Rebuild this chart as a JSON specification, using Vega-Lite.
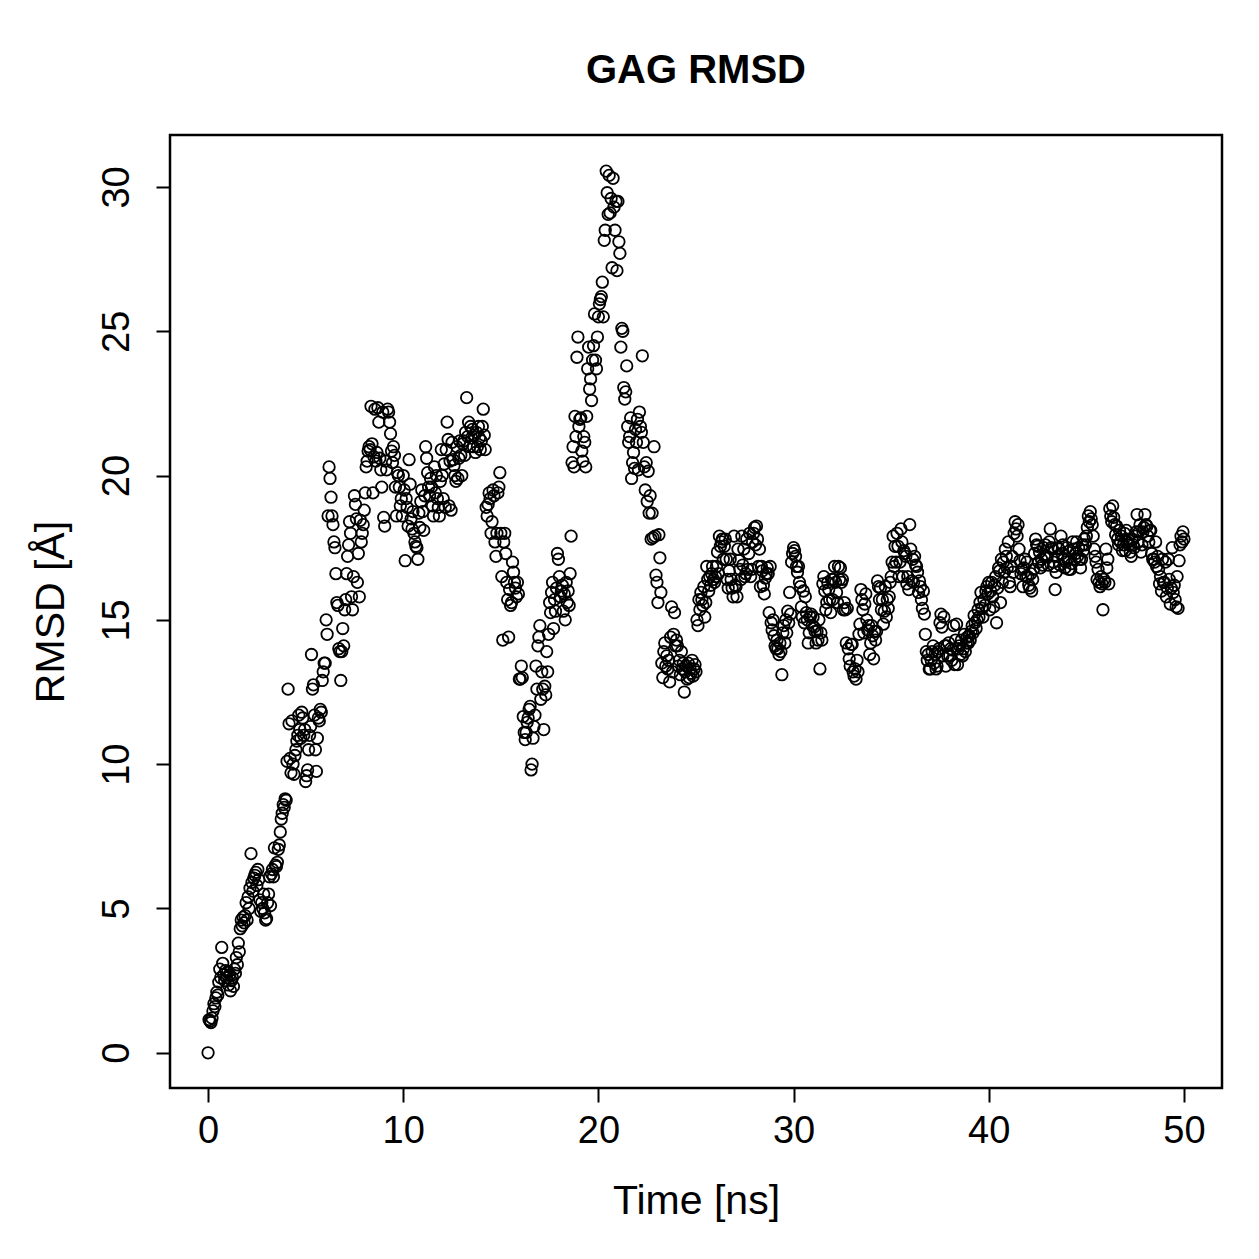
{
  "$schema": "https://vega.github.io/schema/vega-lite/v6.json",
  "width": 1052,
  "height": 953,
  "autosize": {"type": "none"},
  "padding": {"left": 170, "top": 135, "right": 37, "bottom": 171},
  "background": "white",
  "title": {
    "text": "GAG RMSD",
    "font": "Liberation Sans",
    "fontSize": 40,
    "fontWeight": "bold",
    "color": "black",
    "anchor": "middle",
    "frame": "group",
    "baseline": "alphabetic",
    "offset": 12
  },
  "config": {
    "view": {"stroke": "black", "strokeWidth": 2.5},
    "font": "Liberation Sans"
  },
  "data": {
    "values": [
      {"t":0,"r":0},{"t":0.05,"r":1.15},{"t":0.1,"r":1.1},{"t":0.15,"r":1.05},{"t":0.2,"r":1.2},{"t":0.25,"r":1.45},{"t":0.3,"r":1.7},{"t":0.35,"r":1.6},{"t":0.4,"r":1.9},{"t":0.45,"r":2.1},{"t":0.5,"r":2.0},{"t":0.55,"r":2.45},{"t":0.6,"r":2.9},{"t":0.65,"r":2.6},{"t":0.7,"r":3.65},{"t":0.75,"r":3.1},{"t":0.8,"r":2.7},{"t":0.85,"r":2.5},{"t":0.9,"r":2.85},{"t":0.95,"r":2.6},
      {"t":1,"r":2.8},{"t":1.05,"r":2.35},{"t":1.1,"r":2.7},{"t":1.15,"r":2.15},{"t":1.2,"r":2.5},{"t":1.25,"r":2.6},{"t":1.3,"r":2.3},{"t":1.35,"r":2.9},{"t":1.4,"r":2.75},{"t":1.45,"r":3.3},{"t":1.5,"r":3.05},{"t":1.55,"r":3.8},{"t":1.6,"r":3.5},{"t":1.65,"r":4.3},{"t":1.7,"r":4.6},{"t":1.75,"r":4.4},{"t":1.8,"r":4.7},{"t":1.85,"r":4.5},{"t":1.9,"r":4.75},{"t":1.95,"r":5.2},
      {"t":2,"r":4.6},{"t":2.05,"r":5.4},{"t":2.1,"r":5.0},{"t":2.15,"r":5.7},{"t":2.2,"r":6.9},{"t":2.25,"r":5.9},{"t":2.3,"r":5.6},{"t":2.35,"r":6.05},{"t":2.4,"r":6.15},{"t":2.45,"r":6.25},{"t":2.5,"r":5.8},{"t":2.55,"r":6.35},{"t":2.6,"r":6.0},{"t":2.65,"r":5.3},{"t":2.7,"r":4.9},{"t":2.75,"r":5.2},{"t":2.8,"r":5.0},{"t":2.85,"r":5.5},{"t":2.9,"r":4.85},{"t":2.95,"r":4.6},
      {"t":3,"r":4.65},{"t":3.05,"r":5.2},{"t":3.1,"r":5.5},{"t":3.15,"r":6.1},{"t":3.2,"r":5.1},{"t":3.25,"r":6.2},{"t":3.3,"r":6.35},{"t":3.35,"r":6.1},{"t":3.4,"r":7.1},{"t":3.45,"r":6.5},{"t":3.5,"r":6.45},{"t":3.55,"r":6.6},{"t":3.6,"r":7.05},{"t":3.65,"r":7.2},{"t":3.7,"r":7.65},{"t":3.75,"r":8.1},{"t":3.8,"r":8.3},{"t":3.85,"r":8.6},{"t":3.9,"r":8.5},{"t":3.95,"r":8.8},
      {"t":4,"r":8.75},{"t":4.05,"r":10.1},{"t":4.1,"r":12.6},{"t":4.15,"r":11.4},{"t":4.2,"r":10.2},{"t":4.25,"r":9.7},{"t":4.3,"r":11.5},{"t":4.35,"r":10.0},{"t":4.4,"r":9.65},{"t":4.45,"r":10.3},{"t":4.5,"r":10.5},{"t":4.55,"r":10.8},{"t":4.6,"r":11.0},{"t":4.65,"r":11.7},{"t":4.7,"r":11.2},{"t":4.75,"r":10.9},{"t":4.8,"r":11.8},{"t":4.85,"r":11.6},{"t":4.9,"r":11.0},{"t":4.95,"r":11.2},
      {"t":5,"r":9.4},{"t":5.05,"r":9.6},{"t":5.1,"r":9.8},{"t":5.15,"r":10.5},{"t":5.2,"r":11.0},{"t":5.25,"r":11.3},{"t":5.3,"r":13.8},{"t":5.35,"r":12.6},{"t":5.4,"r":12.75},{"t":5.45,"r":11.7},{"t":5.5,"r":10.5},{"t":5.55,"r":9.75},{"t":5.6,"r":10.9},{"t":5.65,"r":11.6},{"t":5.7,"r":11.5},{"t":5.75,"r":11.9},{"t":5.8,"r":11.8},{"t":5.85,"r":12.9},{"t":5.9,"r":13.2},{"t":5.95,"r":13.5},
      {"t":6,"r":13.5},{"t":6.05,"r":15.0},{"t":6.1,"r":14.5},{"t":6.15,"r":18.6},{"t":6.2,"r":20.3},{"t":6.25,"r":19.9},{"t":6.3,"r":19.25},{"t":6.35,"r":18.6},{"t":6.4,"r":18.3},{"t":6.45,"r":17.7},{"t":6.5,"r":17.5},{"t":6.55,"r":16.6},{"t":6.6,"r":15.6},{"t":6.65,"r":15.5},{"t":6.7,"r":14.0},{"t":6.75,"r":13.9},{"t":6.8,"r":12.9},{"t":6.85,"r":13.9},{"t":6.9,"r":14.7},{"t":6.95,"r":14.1},
      {"t":7,"r":15.35},{"t":7.05,"r":15.7},{"t":7.1,"r":16.6},{"t":7.15,"r":17.2},{"t":7.2,"r":17.6},{"t":7.25,"r":18.4},{"t":7.3,"r":18.0},{"t":7.35,"r":15.8},{"t":7.4,"r":15.35},{"t":7.45,"r":16.5},{"t":7.5,"r":19.3},{"t":7.55,"r":19.0},{"t":7.6,"r":18.5},{"t":7.65,"r":16.3},{"t":7.7,"r":17.3},{"t":7.75,"r":15.8},{"t":7.8,"r":18.45},{"t":7.85,"r":17.7},{"t":7.9,"r":18.0},{"t":7.95,"r":18.3},
      {"t":8,"r":18.8},{"t":8.05,"r":19.4},{"t":8.1,"r":20.3},{"t":8.15,"r":20.5},{"t":8.2,"r":20.85},{"t":8.25,"r":21.0},{"t":8.3,"r":20.9},{"t":8.35,"r":22.4},{"t":8.4,"r":21.1},{"t":8.45,"r":19.4},{"t":8.5,"r":20.65},{"t":8.55,"r":22.3},{"t":8.6,"r":20.5},{"t":8.65,"r":20.8},{"t":8.7,"r":22.35},{"t":8.75,"r":21.85},{"t":8.8,"r":20.6},{"t":8.85,"r":20.2},{"t":8.9,"r":19.6},{"t":8.95,"r":22.2},
      {"t":9,"r":18.55},{"t":9.05,"r":18.25},{"t":9.1,"r":20.5},{"t":9.15,"r":20.2},{"t":9.2,"r":22.3},{"t":9.25,"r":22.2},{"t":9.3,"r":21.85},{"t":9.35,"r":21.45},{"t":9.4,"r":20.85},{"t":9.45,"r":20.45},{"t":9.5,"r":21.0},{"t":9.55,"r":20.7},{"t":9.6,"r":19.6},{"t":9.65,"r":18.6},{"t":9.7,"r":20.1},{"t":9.75,"r":20.0},{"t":9.8,"r":19.6},{"t":9.85,"r":18.95},{"t":9.9,"r":19.2},{"t":9.95,"r":18.6},
      {"t":10,"r":20.0},{"t":10.05,"r":19.5},{"t":10.1,"r":17.05},{"t":10.15,"r":19.2},{"t":10.2,"r":18.9},{"t":10.25,"r":18.25},{"t":10.3,"r":20.55},{"t":10.35,"r":19.7},{"t":10.4,"r":18.5},{"t":10.45,"r":18.15},{"t":10.5,"r":18.75},{"t":10.55,"r":18.0},{"t":10.6,"r":17.7},{"t":10.65,"r":17.55},{"t":10.7,"r":17.5},{"t":10.75,"r":17.1},{"t":10.8,"r":18.7},{"t":10.85,"r":18.2},{"t":10.9,"r":19.1},{"t":10.95,"r":19.5},
      {"t":11,"r":18.75},{"t":11.05,"r":18.1},{"t":11.1,"r":19.3},{"t":11.15,"r":21.0},{"t":11.2,"r":20.6},{"t":11.25,"r":20.1},{"t":11.3,"r":19.6},{"t":11.35,"r":19.3},{"t":11.4,"r":19.9},{"t":11.45,"r":19.6},{"t":11.5,"r":18.95},{"t":11.55,"r":18.6},{"t":11.6,"r":20.3},{"t":11.65,"r":19.4},{"t":11.7,"r":20.0},{"t":11.75,"r":19.2},{"t":11.8,"r":18.9},{"t":11.85,"r":18.6},{"t":11.9,"r":19.8},{"t":11.95,"r":20.9},
      {"t":12,"r":20.0},{"t":12.05,"r":19.2},{"t":12.1,"r":20.4},{"t":12.15,"r":18.9},{"t":12.2,"r":20.9},{"t":12.25,"r":21.85},{"t":12.3,"r":21.25},{"t":12.35,"r":18.95},{"t":12.4,"r":20.5},{"t":12.45,"r":18.8},{"t":12.5,"r":21.15},{"t":12.55,"r":20.55},{"t":12.6,"r":20.35},{"t":12.65,"r":20.0},{"t":12.7,"r":19.8},{"t":12.75,"r":21.0},{"t":12.8,"r":19.9},{"t":12.85,"r":20.6},{"t":12.9,"r":21.2},{"t":12.95,"r":20.7},
      {"t":13,"r":20.0},{"t":13.05,"r":21.1},{"t":13.1,"r":21.2},{"t":13.15,"r":20.7},{"t":13.2,"r":21.5},{"t":13.25,"r":22.7},{"t":13.3,"r":21.35},{"t":13.35,"r":21.85},{"t":13.4,"r":21.0},{"t":13.45,"r":21.7},{"t":13.5,"r":21.3},{"t":13.55,"r":21.6},{"t":13.6,"r":21.0},{"t":13.65,"r":21.4},{"t":13.7,"r":20.8},{"t":13.75,"r":21.5},{"t":13.8,"r":21.0},{"t":13.85,"r":21.7},{"t":13.9,"r":21.3},{"t":13.95,"r":20.9},
      {"t":14,"r":21.2},{"t":14.05,"r":21.7},{"t":14.1,"r":22.3},{"t":14.15,"r":21.4},{"t":14.2,"r":20.9},{"t":14.25,"r":18.9},{"t":14.3,"r":18.6},{"t":14.35,"r":19.0},{"t":14.4,"r":19.4},{"t":14.45,"r":19.2},{"t":14.5,"r":18.0},{"t":14.55,"r":18.4},{"t":14.6,"r":19.5},{"t":14.65,"r":19.3},{"t":14.7,"r":17.7},{"t":14.75,"r":17.2},{"t":14.8,"r":18.0},{"t":14.85,"r":19.4},{"t":14.9,"r":19.6},{"t":14.95,"r":20.1},
      {"t":15,"r":18.0},{"t":15.05,"r":16.5},{"t":15.1,"r":14.3},{"t":15.15,"r":17.7},{"t":15.2,"r":18.0},{"t":15.25,"r":17.3},{"t":15.3,"r":16.3},{"t":15.35,"r":15.7},{"t":15.4,"r":14.4},{"t":15.45,"r":16.05},{"t":15.5,"r":15.5},{"t":15.55,"r":15.6},{"t":15.6,"r":17.0},{"t":15.65,"r":16.65},{"t":15.7,"r":16.3},{"t":15.75,"r":16.1},{"t":15.8,"r":15.8},{"t":15.85,"r":16.3},{"t":15.9,"r":15.9},{"t":15.95,"r":12.95},
      {"t":16,"r":12.95},{"t":16.05,"r":13.4},{"t":16.1,"r":13.0},{"t":16.15,"r":11.65},{"t":16.2,"r":11.1},{"t":16.25,"r":10.85},{"t":16.3,"r":11.1},{"t":16.35,"r":11.45},{"t":16.4,"r":11.6},{"t":16.45,"r":11.9},{"t":16.5,"r":12.0},{"t":16.55,"r":9.8},{"t":16.6,"r":10.0},{"t":16.65,"r":10.9},{"t":16.7,"r":11.3},{"t":16.75,"r":11.7},{"t":16.8,"r":13.4},{"t":16.85,"r":12.6},{"t":16.9,"r":14.1},{"t":16.95,"r":14.4},
      {"t":17,"r":14.8},{"t":17.05,"r":12.25},{"t":17.1,"r":13.2},{"t":17.15,"r":12.6},{"t":17.2,"r":11.2},{"t":17.25,"r":12.7},{"t":17.3,"r":12.4},{"t":17.35,"r":13.9},{"t":17.4,"r":13.2},{"t":17.45,"r":14.5},{"t":17.5,"r":15.6},{"t":17.55,"r":15.25},{"t":17.6,"r":15.95},{"t":17.65,"r":16.3},{"t":17.7,"r":14.7},{"t":17.75,"r":15.7},{"t":17.8,"r":15.3},{"t":17.85,"r":16.1},{"t":17.9,"r":17.3},{"t":17.95,"r":17.1},
      {"t":18,"r":16.5},{"t":18.05,"r":15.8},{"t":18.1,"r":16.0},{"t":18.15,"r":16.2},{"t":18.2,"r":15.3},{"t":18.25,"r":15.9},{"t":18.3,"r":15.0},{"t":18.35,"r":16.3},{"t":18.4,"r":15.6},{"t":18.45,"r":16.0},{"t":18.5,"r":15.5},{"t":18.55,"r":16.6},{"t":18.6,"r":17.9},{"t":18.65,"r":20.45},{"t":18.7,"r":21.0},{"t":18.75,"r":20.3},{"t":18.8,"r":22.05},{"t":18.85,"r":21.35},{"t":18.9,"r":24.1},{"t":18.95,"r":24.8},
      {"t":19,"r":21.7},{"t":19.05,"r":21.95},{"t":19.1,"r":22.0},{"t":19.15,"r":20.85},{"t":19.2,"r":20.5},{"t":19.25,"r":21.35},{"t":19.3,"r":21.15},{"t":19.35,"r":20.3},{"t":19.4,"r":22.05},{"t":19.45,"r":23.7},{"t":19.5,"r":24.45},{"t":19.55,"r":23.0},{"t":19.6,"r":23.35},{"t":19.65,"r":22.6},{"t":19.7,"r":24.0},{"t":19.75,"r":24.5},{"t":19.8,"r":25.6},{"t":19.85,"r":24.0},{"t":19.9,"r":23.7},{"t":19.95,"r":24.8},
      {"t":20,"r":25.5},{"t":20.05,"r":25.95},{"t":20.1,"r":26.1},{"t":20.15,"r":26.2},{"t":20.2,"r":26.7},{"t":20.25,"r":25.5},{"t":20.3,"r":28.15},{"t":20.35,"r":28.5},{"t":20.4,"r":30.55},{"t":20.45,"r":29.8},{"t":20.5,"r":29.05},{"t":20.55,"r":30.4},{"t":20.6,"r":29.1},{"t":20.65,"r":29.6},{"t":20.7,"r":27.2},{"t":20.75,"r":30.3},{"t":20.8,"r":29.3},{"t":20.85,"r":28.5},{"t":20.9,"r":29.5},{"t":20.95,"r":27.1},
      {"t":21,"r":29.5},{"t":21.05,"r":28.1},{"t":21.1,"r":27.7},{"t":21.15,"r":24.45},{"t":21.2,"r":25.1},{"t":21.25,"r":25.0},{"t":21.3,"r":23.05},{"t":21.35,"r":22.65},{"t":21.4,"r":22.9},{"t":21.45,"r":23.8},{"t":21.5,"r":21.7},{"t":21.55,"r":21.15},{"t":21.6,"r":21.35},{"t":21.65,"r":22.0},{"t":21.7,"r":19.9},{"t":21.75,"r":20.45},{"t":21.8,"r":20.8},{"t":21.85,"r":20.25},{"t":21.9,"r":21.6},{"t":21.95,"r":21.15},
      {"t":22,"r":21.95},{"t":22.05,"r":20.2},{"t":22.1,"r":22.2},{"t":22.15,"r":21.7},{"t":22.2,"r":21.5},{"t":22.25,"r":24.15},{"t":22.3,"r":21.15},{"t":22.35,"r":20.3},{"t":22.4,"r":19.5},{"t":22.45,"r":20.45},{"t":22.5,"r":19.1},{"t":22.55,"r":20.15},{"t":22.6,"r":18.7},{"t":22.65,"r":19.3},{"t":22.7,"r":17.8},{"t":22.75,"r":18.7},{"t":22.8,"r":17.85},{"t":22.85,"r":21.0},{"t":22.9,"r":17.9},{"t":22.95,"r":16.55},
      {"t":23,"r":16.3},{"t":23.05,"r":15.6},{"t":23.1,"r":17.95},{"t":23.15,"r":17.15},{"t":23.2,"r":15.95},{"t":23.25,"r":13.5},{"t":23.3,"r":13.0},{"t":23.35,"r":13.9},{"t":23.4,"r":14.2},{"t":23.45,"r":13.4},{"t":23.5,"r":13.75},{"t":23.55,"r":13.3},{"t":23.6,"r":13.6},{"t":23.65,"r":12.85},{"t":23.7,"r":14.4},{"t":23.75,"r":15.45},{"t":23.8,"r":13.2},{"t":23.85,"r":14.5},{"t":23.9,"r":15.25},{"t":23.95,"r":14.1},
      {"t":24,"r":14.3},{"t":24.05,"r":14.1},{"t":24.1,"r":13.4},{"t":24.15,"r":13.6},{"t":24.2,"r":13.1},{"t":24.25,"r":13.9},{"t":24.3,"r":13.3},{"t":24.35,"r":13.5},{"t":24.4,"r":12.5},{"t":24.45,"r":13.2},{"t":24.5,"r":13.4},{"t":24.55,"r":12.95},{"t":24.6,"r":13.5},{"t":24.65,"r":13.0},{"t":24.7,"r":13.3},{"t":24.75,"r":13.15},{"t":24.8,"r":13.6},{"t":24.85,"r":13.05},{"t":24.9,"r":13.3},{"t":24.95,"r":13.45},
      {"t":25,"r":13.2},{"t":25.05,"r":15.0},{"t":25.1,"r":14.8},{"t":25.15,"r":15.7},{"t":25.2,"r":15.35},{"t":25.25,"r":15.95},{"t":25.3,"r":15.7},{"t":25.35,"r":15.5},{"t":25.4,"r":16.15},{"t":25.45,"r":15.1},{"t":25.5,"r":15.6},{"t":25.55,"r":16.85},{"t":25.6,"r":16.4},{"t":25.65,"r":16.0},{"t":25.7,"r":16.5},{"t":25.75,"r":16.2},{"t":25.8,"r":16.6},{"t":25.85,"r":16.85},{"t":25.9,"r":16.4},{"t":25.95,"r":16.3},
      {"t":26,"r":16.5},{"t":26.05,"r":16.85},{"t":26.1,"r":17.35},{"t":26.15,"r":16.6},{"t":26.2,"r":17.9},{"t":26.25,"r":17.55},{"t":26.3,"r":17.7},{"t":26.35,"r":17.8},{"t":26.4,"r":17.1},{"t":26.45,"r":17.55},{"t":26.5,"r":17.8},{"t":26.55,"r":17.1},{"t":26.6,"r":16.4},{"t":26.65,"r":16.1},{"t":26.7,"r":16.7},{"t":26.75,"r":17.1},{"t":26.8,"r":16.4},{"t":26.85,"r":16.1},{"t":26.9,"r":15.8},{"t":26.95,"r":17.9},
      {"t":27,"r":16.2},{"t":27.05,"r":16.15},{"t":27.1,"r":15.8},{"t":27.15,"r":17.45},{"t":27.2,"r":17.05},{"t":27.25,"r":16.75},{"t":27.3,"r":16.4},{"t":27.35,"r":17.9},{"t":27.4,"r":16.9},{"t":27.45,"r":17.45},{"t":27.5,"r":16.5},{"t":27.55,"r":16.6},{"t":27.6,"r":17.8},{"t":27.65,"r":16.75},{"t":27.7,"r":17.3},{"t":27.75,"r":18.0},{"t":27.8,"r":16.5},{"t":27.85,"r":16.75},{"t":27.9,"r":17.7},{"t":27.95,"r":18.0},
      {"t":28,"r":18.2},{"t":28.05,"r":17.6},{"t":28.1,"r":18.25},{"t":28.15,"r":17.8},{"t":28.2,"r":16.85},{"t":28.25,"r":17.45},{"t":28.3,"r":16.15},{"t":28.35,"r":16.85},{"t":28.4,"r":16.7},{"t":28.45,"r":16.2},{"t":28.5,"r":15.9},{"t":28.55,"r":16.45},{"t":28.6,"r":16.6},{"t":28.65,"r":16.8},{"t":28.7,"r":16.6},{"t":28.75,"r":15.25},{"t":28.8,"r":16.85},{"t":28.85,"r":14.9},{"t":28.9,"r":14.65},{"t":28.95,"r":15.0},
      {"t":29,"r":14.45},{"t":29.05,"r":14.1},{"t":29.1,"r":14.0},{"t":29.15,"r":14.3},{"t":29.2,"r":14.0},{"t":29.25,"r":13.8},{"t":29.3,"r":14.2},{"t":29.35,"r":13.9},{"t":29.4,"r":13.1},{"t":29.45,"r":14.55},{"t":29.5,"r":14.8},{"t":29.55,"r":14.2},{"t":29.6,"r":15.0},{"t":29.65,"r":14.55},{"t":29.7,"r":15.3},{"t":29.75,"r":14.9},{"t":29.8,"r":15.95},{"t":29.85,"r":15.2},{"t":29.9,"r":17.0},{"t":29.95,"r":17.3},
      {"t":30,"r":17.5},{"t":30.05,"r":17.4},{"t":30.1,"r":17.2},{"t":30.15,"r":16.85},{"t":30.2,"r":16.65},{"t":30.25,"r":16.85},{"t":30.3,"r":16.3},{"t":30.35,"r":16.15},{"t":30.4,"r":15.45},{"t":30.45,"r":15.1},{"t":30.5,"r":16.0},{"t":30.55,"r":14.9},{"t":30.6,"r":15.8},{"t":30.65,"r":15.25},{"t":30.7,"r":15.0},{"t":30.75,"r":14.2},{"t":30.8,"r":14.55},{"t":30.85,"r":15.1},{"t":30.9,"r":15.2},{"t":30.95,"r":14.8},
      {"t":31,"r":15.1},{"t":31.05,"r":14.75},{"t":31.1,"r":14.6},{"t":31.15,"r":14.2},{"t":31.2,"r":14.6},{"t":31.25,"r":14.3},{"t":31.3,"r":15.0},{"t":31.35,"r":13.3},{"t":31.4,"r":14.55},{"t":31.45,"r":14.3},{"t":31.5,"r":16.25},{"t":31.55,"r":16.5},{"t":31.6,"r":16.0},{"t":31.65,"r":15.35},{"t":31.7,"r":15.6},{"t":31.75,"r":16.3},{"t":31.8,"r":16.05},{"t":31.85,"r":15.7},{"t":31.9,"r":15.25},{"t":31.95,"r":16.4},
      {"t":32,"r":15.7},{"t":32.05,"r":16.4},{"t":32.1,"r":16.85},{"t":32.15,"r":16.3},{"t":32.2,"r":15.95},{"t":32.25,"r":15.6},{"t":32.3,"r":16.85},{"t":32.35,"r":16.4},{"t":32.4,"r":16.8},{"t":32.45,"r":16.3},{"t":32.5,"r":16.4},{"t":32.55,"r":15.35},{"t":32.6,"r":15.6},{"t":32.65,"r":15.35},{"t":32.7,"r":14.2},{"t":32.75,"r":15.4},{"t":32.8,"r":14.0},{"t":32.85,"r":13.65},{"t":32.9,"r":13.4},{"t":32.95,"r":14.15},
      {"t":33,"r":14.15},{"t":33.05,"r":13.2},{"t":33.1,"r":13.05},{"t":33.15,"r":13.3},{"t":33.2,"r":12.95},{"t":33.25,"r":13.6},{"t":33.3,"r":13.2},{"t":33.35,"r":14.5},{"t":33.4,"r":14.85},{"t":33.45,"r":16.05},{"t":33.5,"r":15.7},{"t":33.55,"r":15.35},{"t":33.6,"r":14.55},{"t":33.65,"r":15.55},{"t":33.7,"r":15.9},{"t":33.75,"r":15.0},{"t":33.8,"r":14.65},{"t":33.85,"r":14.8},{"t":33.9,"r":13.8},{"t":33.95,"r":14.2},
      {"t":34,"r":14.8},{"t":34.05,"r":14.45},{"t":34.1,"r":13.65},{"t":34.15,"r":14.6},{"t":34.2,"r":14.3},{"t":34.25,"r":14.6},{"t":34.3,"r":16.35},{"t":34.35,"r":16.15},{"t":34.4,"r":15.7},{"t":34.45,"r":16.1},{"t":34.5,"r":15.35},{"t":34.55,"r":15.7},{"t":34.6,"r":14.85},{"t":34.65,"r":15.3},{"t":34.7,"r":16.15},{"t":34.75,"r":15.1},{"t":34.8,"r":15.7},{"t":34.85,"r":15.4},{"t":34.9,"r":15.8},{"t":34.95,"r":16.3},
      {"t":35,"r":16.5},{"t":35.05,"r":17.0},{"t":35.1,"r":17.9},{"t":35.15,"r":16.85},{"t":35.2,"r":17.55},{"t":35.25,"r":17.0},{"t":35.3,"r":18.0},{"t":35.35,"r":17.55},{"t":35.4,"r":16.5},{"t":35.45,"r":17.0},{"t":35.5,"r":18.15},{"t":35.55,"r":17.7},{"t":35.6,"r":16.5},{"t":35.65,"r":17.4},{"t":35.7,"r":17.3},{"t":35.75,"r":17.2},{"t":35.8,"r":16.25},{"t":35.85,"r":16.5},{"t":35.9,"r":16.05},{"t":35.95,"r":18.3},
      {"t":36,"r":17.45},{"t":36.05,"r":16.35},{"t":36.1,"r":17.1},{"t":36.15,"r":16.3},{"t":36.2,"r":17.2},{"t":36.25,"r":16.9},{"t":36.3,"r":16.85},{"t":36.35,"r":16.65},{"t":36.4,"r":15.95},{"t":36.45,"r":16.35},{"t":36.5,"r":16.15},{"t":36.55,"r":15.7},{"t":36.6,"r":15.4},{"t":36.65,"r":16.0},{"t":36.7,"r":15.2},{"t":36.75,"r":14.5},{"t":36.8,"r":13.9},{"t":36.85,"r":13.6},{"t":36.9,"r":13.8},{"t":36.95,"r":13.3},
      {"t":37,"r":13.3},{"t":37.05,"r":13.6},{"t":37.1,"r":13.9},{"t":37.15,"r":14.1},{"t":37.2,"r":13.5},{"t":37.25,"r":13.8},{"t":37.3,"r":13.3},{"t":37.35,"r":13.4},{"t":37.4,"r":13.9},{"t":37.45,"r":14.0},{"t":37.5,"r":14.9},{"t":37.55,"r":15.2},{"t":37.6,"r":14.75},{"t":37.65,"r":13.75},{"t":37.7,"r":15.1},{"t":37.75,"r":14.1},{"t":37.8,"r":13.4},{"t":37.85,"r":14.1},{"t":37.9,"r":13.75},{"t":37.95,"r":14.2},
      {"t":38,"r":13.75},{"t":38.05,"r":14.0},{"t":38.1,"r":13.6},{"t":38.15,"r":13.95},{"t":38.2,"r":14.8},{"t":38.25,"r":13.45},{"t":38.3,"r":14.3},{"t":38.35,"r":14.85},{"t":38.4,"r":13.45},{"t":38.45,"r":14.0},{"t":38.5,"r":14.1},{"t":38.55,"r":13.8},{"t":38.6,"r":14.3},{"t":38.65,"r":13.75},{"t":38.7,"r":14.0},{"t":38.75,"r":14.5},{"t":38.8,"r":13.9},{"t":38.85,"r":14.2},{"t":38.9,"r":14.4},{"t":38.95,"r":14.2},
      {"t":39,"r":14.45},{"t":39.05,"r":14.3},{"t":39.1,"r":14.6},{"t":39.15,"r":14.8},{"t":39.2,"r":14.55},{"t":39.25,"r":15.15},{"t":39.3,"r":14.9},{"t":39.35,"r":14.7},{"t":39.4,"r":15.0},{"t":39.45,"r":15.35},{"t":39.5,"r":15.1},{"t":39.55,"r":15.6},{"t":39.6,"r":15.95},{"t":39.65,"r":15.4},{"t":39.7,"r":15.1},{"t":39.75,"r":15.7},{"t":39.8,"r":15.5},{"t":39.85,"r":16.0},{"t":39.9,"r":16.15},{"t":39.95,"r":15.9},
      {"t":40,"r":16.3},{"t":40.05,"r":15.35},{"t":40.1,"r":16.0},{"t":40.15,"r":16.3},{"t":40.2,"r":15.8},{"t":40.25,"r":15.45},{"t":40.3,"r":16.2},{"t":40.35,"r":16.5},{"t":40.4,"r":14.9},{"t":40.45,"r":16.1},{"t":40.5,"r":16.8},{"t":40.55,"r":16.7},{"t":40.6,"r":15.6},{"t":40.65,"r":17.1},{"t":40.7,"r":16.3},{"t":40.75,"r":17.0},{"t":40.8,"r":16.65},{"t":40.85,"r":17.45},{"t":40.9,"r":17.2},{"t":40.95,"r":16.8},
      {"t":41,"r":17.7},{"t":41.05,"r":16.3},{"t":41.1,"r":16.15},{"t":41.15,"r":16.85},{"t":41.2,"r":17.2},{"t":41.25,"r":16.65},{"t":41.3,"r":18.0},{"t":41.35,"r":18.4},{"t":41.4,"r":18.15},{"t":41.45,"r":17.9},{"t":41.5,"r":18.3},{"t":41.55,"r":17.45},{"t":41.6,"r":17.05},{"t":41.65,"r":16.6},{"t":41.7,"r":16.75},{"t":41.75,"r":16.15},{"t":41.8,"r":16.8},{"t":41.85,"r":17.1},{"t":41.9,"r":16.5},{"t":41.95,"r":17.0},
      {"t":42,"r":16.5},{"t":42.05,"r":16.2},{"t":42.1,"r":16.1},{"t":42.15,"r":16.6},{"t":42.2,"r":16.0},{"t":42.25,"r":16.4},{"t":42.3,"r":16.75},{"t":42.35,"r":17.3},{"t":42.4,"r":17.8},{"t":42.45,"r":17.6},{"t":42.5,"r":17.55},{"t":42.55,"r":17.0},{"t":42.6,"r":17.35},{"t":42.65,"r":16.8},{"t":42.7,"r":17.1},{"t":42.75,"r":16.9},{"t":42.8,"r":17.5},{"t":42.85,"r":17.2},{"t":42.9,"r":17.6},{"t":42.95,"r":17.2},
      {"t":43,"r":17.2},{"t":43.05,"r":16.9},{"t":43.1,"r":17.7},{"t":43.15,"r":18.15},{"t":43.2,"r":17.5},{"t":43.25,"r":17.45},{"t":43.3,"r":17.0},{"t":43.35,"r":16.85},{"t":43.4,"r":16.05},{"t":43.45,"r":16.65},{"t":43.5,"r":17.2},{"t":43.55,"r":17.5},{"t":43.6,"r":17.45},{"t":43.65,"r":16.9},{"t":43.7,"r":17.9},{"t":43.75,"r":17.3},{"t":43.8,"r":17.6},{"t":43.85,"r":17.1},{"t":43.9,"r":16.8},{"t":43.95,"r":17.0},
      {"t":44,"r":17.5},{"t":44.05,"r":17.1},{"t":44.1,"r":16.75},{"t":44.15,"r":17.4},{"t":44.2,"r":16.75},{"t":44.25,"r":16.95},{"t":44.3,"r":17.7},{"t":44.35,"r":17.45},{"t":44.4,"r":17.1},{"t":44.45,"r":17.3},{"t":44.5,"r":17.7},{"t":44.55,"r":17.2},{"t":44.6,"r":17.5},{"t":44.65,"r":17.1},{"t":44.7,"r":16.8},{"t":44.75,"r":17.1},{"t":44.8,"r":17.6},{"t":44.85,"r":17.4},{"t":44.9,"r":17.8},{"t":44.95,"r":17.6},
      {"t":45,"r":17.9},{"t":45.05,"r":18.2},{"t":45.1,"r":18.6},{"t":45.15,"r":18.4},{"t":45.2,"r":18.75},{"t":45.25,"r":18.5},{"t":45.3,"r":18.3},{"t":45.35,"r":17.9},{"t":45.4,"r":17.45},{"t":45.45,"r":17.2},{"t":45.5,"r":17.0},{"t":45.55,"r":16.4},{"t":45.6,"r":16.75},{"t":45.65,"r":16.3},{"t":45.7,"r":16.15},{"t":45.75,"r":16.5},{"t":45.8,"r":16.25},{"t":45.85,"r":15.35},{"t":45.9,"r":16.4},{"t":45.95,"r":16.3},
      {"t":46,"r":17.45},{"t":46.05,"r":16.8},{"t":46.1,"r":17.1},{"t":46.15,"r":16.25},{"t":46.2,"r":18.85},{"t":46.25,"r":18.6},{"t":46.3,"r":18.4},{"t":46.35,"r":18.95},{"t":46.4,"r":18.55},{"t":46.45,"r":18.3},{"t":46.5,"r":17.95},{"t":46.55,"r":18.25},{"t":46.6,"r":17.8},{"t":46.65,"r":17.6},{"t":46.7,"r":18.1},{"t":46.75,"r":17.7},{"t":46.8,"r":17.9},{"t":46.85,"r":17.4},{"t":46.9,"r":17.6},{"t":46.95,"r":18.0},
      {"t":47,"r":17.4},{"t":47.05,"r":18.1},{"t":47.1,"r":17.7},{"t":47.15,"r":17.8},{"t":47.2,"r":17.6},{"t":47.25,"r":17.35},{"t":47.3,"r":17.2},{"t":47.35,"r":17.8},{"t":47.4,"r":17.6},{"t":47.45,"r":17.5},{"t":47.5,"r":17.9},{"t":47.55,"r":18.05},{"t":47.6,"r":18.65},{"t":47.65,"r":17.7},{"t":47.7,"r":18.05},{"t":47.75,"r":18.3},{"t":47.8,"r":17.35},{"t":47.85,"r":17.6},{"t":47.9,"r":18.05},{"t":47.95,"r":18.2},
      {"t":48,"r":18.65},{"t":48.05,"r":18.3},{"t":48.1,"r":18.25},{"t":48.15,"r":17.9},{"t":48.2,"r":17.7},{"t":48.25,"r":18.1},{"t":48.3,"r":18.1},{"t":48.35,"r":17.3},{"t":48.4,"r":17.1},{"t":48.45,"r":17.1},{"t":48.5,"r":17.0},{"t":48.55,"r":17.7},{"t":48.6,"r":16.85},{"t":48.65,"r":17.2},{"t":48.7,"r":16.75},{"t":48.75,"r":16.25},{"t":48.8,"r":16.5},{"t":48.85,"r":16.0},{"t":48.9,"r":17.1},{"t":48.95,"r":16.3},
      {"t":49,"r":16.3},{"t":49.05,"r":17.0},{"t":49.1,"r":15.8},{"t":49.15,"r":16.1},{"t":49.2,"r":17.1},{"t":49.25,"r":16.4},{"t":49.3,"r":15.55},{"t":49.35,"r":16.1},{"t":49.4,"r":17.5},{"t":49.45,"r":15.95},{"t":49.5,"r":16.2},{"t":49.55,"r":15.7},{"t":49.6,"r":15.45},{"t":49.65,"r":16.5},{"t":49.7,"r":15.4},{"t":49.75,"r":17.05},{"t":49.8,"r":17.6},{"t":49.85,"r":17.9},{"t":49.9,"r":17.7},{"t":49.95,"r":18.05},
      {"t":50,"r":17.8}
    ]
  },
  "mark": {
    "type": "point",
    "shape": "circle",
    "filled": false,
    "stroke": "black",
    "strokeWidth": 1.8,
    "size": 132,
    "opacity": 1,
    "clip": true
  },
  "encoding": {
    "x": {
      "field": "t",
      "type": "quantitative",
      "scale": {"domain": [-1.95, 51.95], "nice": false, "zero": false},
      "axis": {
        "values": [0, 10, 20, 30, 40, 50],
        "title": "Time [ns]",
        "titleFont": "Liberation Sans",
        "titleFontSize": 41,
        "titleFontWeight": "normal",
        "titleColor": "black",
        "titleBaseline": "alphabetic",
        "titleY": 125,
        "domain": false,
        "grid": false,
        "ticks": true,
        "tickSize": 14,
        "tickWidth": 2,
        "tickColor": "black",
        "labelFont": "Liberation Sans",
        "labelFontSize": 38,
        "labelColor": "black",
        "labelPadding": 10,
        "labelBaseline": "top",
        "labelFlush": false,
        "labelOverlap": false
      }
    },
    "y": {
      "field": "r",
      "type": "quantitative",
      "scale": {"domain": [-1.22, 31.8], "nice": false, "zero": false},
      "axis": {
        "values": [0, 5, 10, 15, 20, 25, 30],
        "title": "RMSD [Å]",
        "titleFont": "Liberation Sans",
        "titleFontSize": 41,
        "titleFontWeight": "normal",
        "titleColor": "black",
        "titleAngle": -90,
        "titleBaseline": "alphabetic",
        "titleX": -107,
        "domain": false,
        "grid": false,
        "ticks": true,
        "tickSize": 14,
        "tickWidth": 2,
        "tickColor": "black",
        "labelFont": "Liberation Sans",
        "labelFontSize": 38,
        "labelColor": "black",
        "labelAngle": -90,
        "labelAlign": "center",
        "labelBaseline": "alphabetic",
        "labelPadding": 28,
        "labelFlush": false,
        "labelOverlap": false
      }
    }
  }
}
